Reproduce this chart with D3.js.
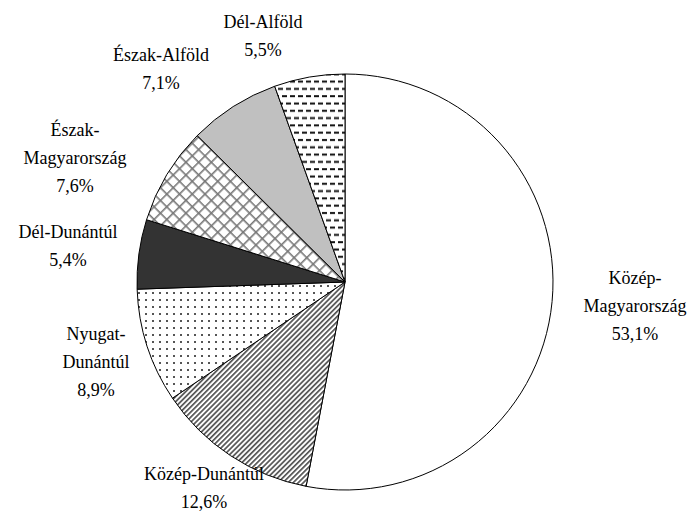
<!DOCTYPE html>
<html>
<head>
<meta charset="UTF-8">
<script src="https://d3js.org/d3.v7.min.js"></script>
<style>
    svg text { font-family: "Times New Roman", Tinos, "Liberation Serif", serif; }
</style>
</head>
<body style="margin:0">
<script>
    // adatok (óramutató járásával, 12 órától)
    var regions = ['Közép-Magyarország', 'Közép-Dunántúl', 'Nyugat-Dunántúl', 'Dél-Dunántúl',
                   'Észak-Magyarország', 'Észak-Alföld', 'Dél-Alföld'];
    var shares = [53.1, 12.6, 8.9, 5.4, 7.6, 7.1, 5.5];
    var labelLines = [
        ['Közép-', 'Magyarország'],
        ['Közép-Dunántúl'],
        ['Nyugat-', 'Dunántúl'],
        ['Dél-Dunántúl'],
        ['Észak-', 'Magyarország'],
        ['Észak-Alföld'],
        ['Dél-Alföld']
    ];
    var fills = ['#fff', 'url(#pStripe)', 'url(#pDots)', '#333', 'url(#pCross)', '#c0c0c0', 'url(#pDash)'];

    // címkék helye (első sor közepe)
    var labelPos = [[635, 278], [204, 474], [96, 334], [68, 232], [75, 130], [161, 55], [263, 22]];

    var width = 689, height = 518;
    var cx = 345, cy = 282, r = 208;
    var lineH = 28;

    var svg = d3.select('body').append('svg')
        .attr('width', width)
        .attr('height', height)
        .style('display', 'block')
        .style('font-family', 'Times New Roman, serif');

    var defs = svg.append('defs');

    // ferde csíkok
    var ps = defs.append('pattern').attr('id', 'pStripe')
        .attr('patternUnits', 'userSpaceOnUse').attr('width', 3.6).attr('height', 4)
        .attr('patternTransform', 'rotate(45)');
    ps.append('rect').attr('width', 3.6).attr('height', 4).attr('fill', '#fff');
    ps.append('rect').attr('width', 1.7).attr('height', 4).attr('fill', '#555');

    // pontok
    var pd = defs.append('pattern').attr('id', 'pDots')
        .attr('patternUnits', 'userSpaceOnUse').attr('width', 7).attr('height', 7);
    pd.append('rect').attr('width', 7).attr('height', 7).attr('fill', '#fff');
    pd.append('rect').attr('x', 3).attr('y', 3).attr('width', 2).attr('height', 2).attr('fill', '#555');

    // rács
    var pc = defs.append('pattern').attr('id', 'pCross')
        .attr('patternUnits', 'userSpaceOnUse').attr('width', 9).attr('height', 9)
        .attr('patternTransform', 'rotate(45)');
    pc.append('rect').attr('width', 9).attr('height', 9).attr('fill', '#fff');
    pc.append('rect').attr('width', 1.6).attr('height', 9).attr('fill', '#777');
    pc.append('rect').attr('width', 9).attr('height', 1.6).attr('fill', '#777');

    // szaggatott vonalak
    var pdash = defs.append('pattern').attr('id', 'pDash')
        .attr('patternUnits', 'userSpaceOnUse').attr('width', 8).attr('height', 14.6);
    pdash.append('rect').attr('width', 8).attr('height', 14.6).attr('fill', '#fff');
    pdash.append('rect').attr('x', 1).attr('y', 3).attr('width', 5).attr('height', 2).attr('fill', '#111');
    pdash.append('rect').attr('x', 5).attr('y', 10.3).attr('width', 5).attr('height', 2).attr('fill', '#111');
    pdash.append('rect').attr('x', -3).attr('y', 10.3).attr('width', 5).attr('height', 2).attr('fill', '#111');

    var pie = d3.pie().sort(null).value(function(d) { return d; });
    var arc = d3.arc().innerRadius(0).outerRadius(r);
    var arcs = pie(shares);

    var g = svg.append('g').attr('transform', 'translate(' + cx + ',' + cy + ')');
    g.selectAll('path')
        .data(arcs)
        .enter().append('path')
        .attr('d', arc)
        .attr('fill', function(d, i) { return fills[i]; })
        .attr('stroke', '#000')
        .attr('stroke-width', 1);

    // címkék - soronként külön text elem
    var fmt = function(v) { return d3.format('.1f')(v).replace('.', ',') + '%'; };
    regions.forEach(function(name, i) {
        var lines = labelLines[i].concat([fmt(shares[i])]);
        lines.forEach(function(l, j) {
            svg.append('text')
                .attr('x', labelPos[i][0])
                .attr('y', labelPos[i][1] + j * lineH + 6)
                .attr('font-size', 18)
                .attr('text-anchor', 'middle')
                .style('font-family', 'Times New Roman')
                .text(l);
        });
    });
</script>
</body>
</html>
